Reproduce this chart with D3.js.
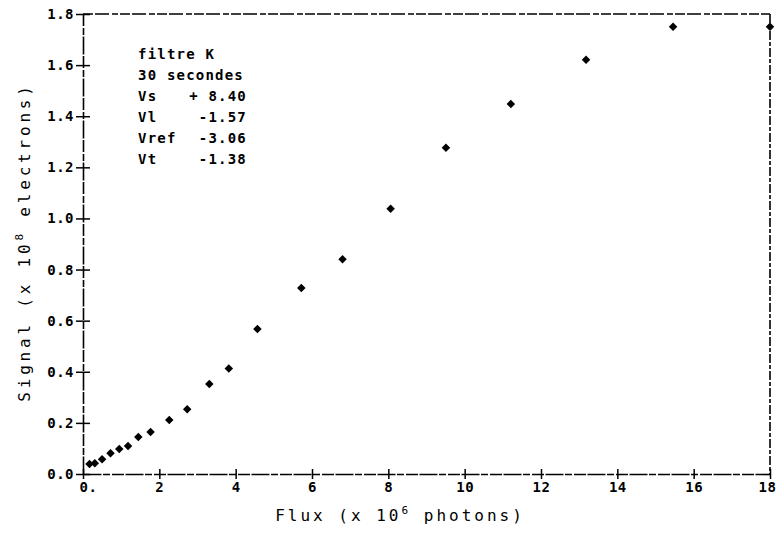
<!DOCTYPE html>
<html>
<head>
<meta charset="utf-8">
<script src="https://cdn.jsdelivr.net/npm/d3@7"></script>
<style>
  body { margin: 0; background: #fff; }
  svg { display: block; }
  text { font-family: "DejaVu Sans Mono", "Liberation Mono", monospace; fill: #000; }
  .tick text { font-size: 14px; font-weight: bold; letter-spacing: 0.5px; }
  .note { font-size: 14px; font-weight: bold; letter-spacing: 1.2px; }
  .title { font-size: 16px; letter-spacing: 3px; }
</style>
</head>
<body>
<svg id="chart" width="776" height="535"></svg>
<script>
// flux (x 10^6 photons) and signal (x 10^8 electrons)
const flux   = [0.17, 0.31, 0.50, 0.72, 0.95, 1.18, 1.45, 1.77, 2.26, 2.73, 3.31, 3.82,
                4.57, 5.72, 6.80, 8.06, 9.51, 11.21, 13.18, 15.46, 18.0];
const signal = [0.039, 0.042, 0.058, 0.081, 0.098, 0.110, 0.145, 0.164, 0.211, 0.253, 0.352, 0.413,
                0.567, 0.728, 0.840, 1.038, 1.277, 1.448, 1.621, 1.750, 1.750];

const xTicks = [0, 2, 4, 6, 8, 10, 12, 14, 16, 18];
const yTicks = [0, 0.2, 0.4, 0.6, 0.8, 1.0, 1.2, 1.4, 1.6, 1.8];

const noteLabels = ["Vs", "Vl", "Vref", "Vt"];
const noteValues = ["+ 8.40", "-1.57", "-3.06", "-1.38"];

const svg = d3.select("#chart");
const mLeft = 83, mRight = 770, mTop = 14, mBottom = 474;

let x = d3.scaleLinear().domain([0, 18]).range([mLeft, mRight]);
let y = d3.scaleLinear().domain([0, 1.8]).range([mBottom, mTop]);

// frame top + right (scanned, broken line)
svg.append("line")
    .attr("x1", mLeft).attr("x2", mRight).attr("y1", mTop).attr("y2", mTop)
    .attr("stroke", "#000").attr("stroke-width", 1.6)
    .attr("stroke-dasharray", "10,2,14,3,6,2");
svg.append("line")
    .attr("x1", mRight).attr("x2", mRight).attr("y1", mTop).attr("y2", mBottom)
    .attr("stroke", "#000").attr("stroke-width", 1.6)
    .attr("stroke-dasharray", "9,2,4,2");

// y axis, ticks crossing the line
let yAxis = svg.append("g")
    .attr("transform", "translate(" + mLeft + ",0)")
    .call(d3.axisLeft(y).tickValues(yTicks).tickSize(7).tickSizeOuter(0).tickPadding(2)
        .tickFormat(d3.format(".1f")));
yAxis.selectAll(".tick line").attr("x1", 7);

let xAxis = svg.append("g")
    .attr("transform", "translate(0," + mBottom + ")")
    .call(d3.axisBottom(x).tickValues(xTicks).tickSize(5).tickSizeOuter(0).tickPadding(3)
        .tickFormat(d => d === 0 ? "0." : d));
xAxis.selectAll(".tick line").attr("y1", -5);
// nudge the end labels so they stay inside the page
xAxis.selectAll(".tick text").attr("dx", d => d === 0 ? 5 : (d === 18 ? -3 : 0));

svg.selectAll(".domain")
    .attr("stroke-width", 1.6)
    .attr("stroke-dasharray", "18,1.5,7,2,12,1.5");
svg.selectAll(".tick line").attr("stroke-width", 1.5);

// data points
svg.append("g").selectAll("path")
    .data(flux.map((f, i) => [f, signal[i]]))
    .enter().append("path")
    .attr("transform", d => "translate(" + x(d[0]) + "," + y(d[1]) + ")")
    .attr("d", d3.symbol().type(d3.symbolDiamond2).size(46))
    .attr("fill", "#000");

// annotation block
let note = svg.append("g").attr("class", "note");
note.append("text").attr("x", 138).attr("y", 59).text("filtre K");
note.append("text").attr("x", 138).attr("y", 80).text("30 secondes");
noteLabels.forEach((lab, i) => {
    note.append("text").attr("x", 138).attr("y", 101 + i * 21).text(lab);
    note.append("text").attr("x", 247).attr("y", 101 + i * 21)
        .attr("text-anchor", "end").text(noteValues[i]);
});

// axis titles
let xt = svg.append("text").attr("class", "title")
    .attr("x", 400).attr("y", 521).attr("text-anchor", "middle");
xt.append("tspan").text("Flux (x 10");
xt.append("tspan").attr("dy", -7).attr("font-size", "11px").text("6");
xt.append("tspan").attr("dy", 7).text(" photons)");

let yt = svg.append("text").attr("class", "title")
    .attr("transform", "translate(30,242) rotate(-90)")
    .attr("text-anchor", "middle")
    .style("letter-spacing", "3.8px");
yt.append("tspan").text("Signal (x 10");
yt.append("tspan").attr("dy", -7).attr("font-size", "11px").text("8");
yt.append("tspan").attr("dy", 7).text(" electrons)");
</script>
</body>
</html>
